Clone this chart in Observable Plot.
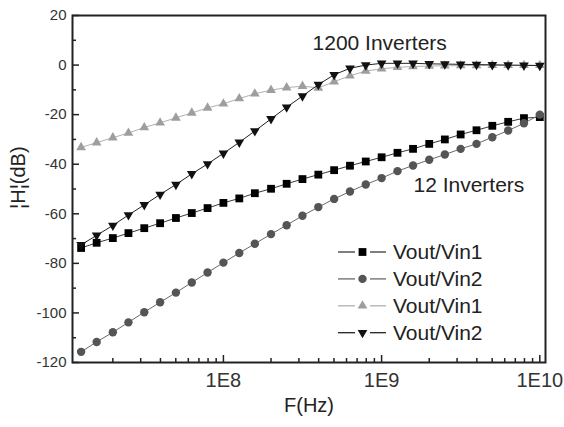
<!DOCTYPE html>
<html><head><meta charset="utf-8">
<script src="https://cdn.jsdelivr.net/npm/d3@7"></script>
<script src="https://cdn.jsdelivr.net/npm/@observablehq/plot@0.6"></script>
<style>
html,body{margin:0;padding:0;background:#fff;}
#wrap{position:relative;width:564px;height:427px;}
#wrap svg{display:block;}
#legend{position:absolute;left:0;top:0;pointer-events:none;}
</style></head>
<body><div id="wrap"></div>
<script>
// ---------- data ----------
const freq = [1.26e7, 1.58e7, 2.00e7, 2.51e7, 3.16e7, 3.98e7, 5.01e7, 6.31e7, 7.94e7,
  1.00e8, 1.26e8, 1.58e8, 2.00e8, 2.51e8, 3.16e8, 3.98e8, 5.01e8, 6.31e8, 7.94e8,
  1.00e9, 1.26e9, 1.58e9, 2.00e9, 2.51e9, 3.16e9, 3.98e9, 5.01e9, 6.31e9, 7.94e9,
  1.00e10];
// 12 inverters
const inv12Vin1 = [-73.8, -71.7, -69.8, -67.8, -65.8, -63.8, -61.7, -59.7, -57.7, -55.6,
  -53.8, -51.7, -49.9, -47.9, -46.0, -44.2, -42.4, -40.6, -38.9, -37.2,
  -35.4, -33.8, -31.8, -30.0, -28.0, -26.3, -24.5, -22.9, -21.4, -21.0];
const inv12Vin2 = [-115.7, -111.7, -107.8, -103.8, -99.7, -95.7, -91.8, -87.7, -83.7, -79.7,
  -75.8, -72.1, -68.2, -64.6, -60.8, -57.3, -54.0, -51.0, -48.2, -45.6,
  -42.8, -40.5, -38.2, -36.1, -33.8, -31.8, -29.1, -26.4, -23.5, -20.0];
// 1200 inverters
const inv1200Vin1 = [-33.2, -31.3, -29.3, -27.4, -25.2, -23.3, -21.3, -19.3, -17.3, -15.6,
  -13.5, -11.6, -10.1, -9.1, -8.5, -9.2, -6.7, -4.3, -2.4, -1.5,
  -0.9, -0.6, -0.4, -0.3, -0.2, -0.2, -0.1, -0.1, -0.1, -0.1];
const inv1200Vin2 = [-72.5, -68.7, -64.7, -60.5, -56.4, -52.2, -48.2, -43.9, -39.9, -35.6,
  -31.2, -26.6, -21.7, -17.0, -12.5, -7.9, -3.9, -1.3, 0.0, 0.7,
  0.7, 0.7, 0.5, 0.4, 0.3, 0.2, 0.1, 0.0, -0.1, -0.2];
const legendLabels = ["Vout/Vin1", "Vout/Vin2", "Vout/Vin1", "Vout/Vin2"];
const annotations = ["1200 Inverters", "12 Inverters"];
const xMajorTicks = [1e8, 1e9, 1e10];
const xTickLabels = ["1E8", "1E9", "1E10"];
const xMinorTicks = [2e7, 3e7, 4e7, 5e7, 6e7, 7e7, 8e7, 9e7,
  2e8, 3e8, 4e8, 5e8, 6e8, 7e8, 8e8, 9e8,
  2e9, 3e9, 4e9, 5e9, 6e9, 7e9, 8e9, 9e9];
const yMajorTicks = [-120, -100, -80, -60, -40, -20, 0, 20];
const yTickLabels = ["-120", "-100", "-80", "-60", "-40", "-20", "0", "20"];
const yMinorTicks = [-110, -90, -70, -50, -30, -10, 10];
const xTitle = "F(Hz)";
const yTitle = "¦H¦(dB)";

// ---------- layout ----------
const W = 564, H = 427, mL = 72, mR = 19, mT = 15, mB = 65;
const innerW = W - mL - mR, innerH = H - mT - mB;
const FONT = "'Liberation Sans', Arial, Helvetica, sans-serif";
const INK = "#222";

const triDown = {
  draw(ctx, size) {
    const y = Math.sqrt(size / (Math.sqrt(3) * 3));
    ctx.moveTo(0, 2 * y);
    ctx.lineTo(Math.sqrt(3) * y, -y);
    ctx.lineTo(-Math.sqrt(3) * y, -y);
    ctx.closePath();
  }
};

const series = [
  {values: inv12Vin1, line: "#3a3a3a", fill: "#000", plotSym: "square", d3Sym: d3.symbolSquare, r: 4.4},
  {values: inv12Vin2, line: "#6a6a6a", fill: "#555", plotSym: "circle", d3Sym: d3.symbolCircle, r: 4.2},
  {values: inv1200Vin1, line: "#b0b0b0", fill: "#9e9e9e", plotSym: "triangle", d3Sym: d3.symbolTriangle, r: 3.6},
  {values: inv1200Vin2, line: "#222", fill: "#111", plotSym: triDown, d3Sym: triDown, r: 3.6}
];

const seriesMarks = series.flatMap(s => {
  const rows = freq.map((f, i) => ({f, v: s.values[i]}));
  return [
    Plot.line(rows, {x: "f", y: "v", stroke: s.line, strokeWidth: 1}),
    Plot.dot(rows, {x: "f", y: "v", symbol: s.plotSym, r: s.r, fill: s.fill, stroke: "none"})
  ];
});

const plot = Plot.plot({
  width: W, height: H,
  marginLeft: mL, marginRight: mR, marginTop: mT, marginBottom: mB,
  style: {fontFamily: FONT, color: INK, background: "#fff", overflow: "visible"},
  x: {type: "log", domain: [10 ** 7.046, 10 ** 10.036]},
  y: {domain: [-120, 20]},
  marks: [
    ...seriesMarks,
    // inward ticks
    Plot.tickY(yMajorTicks, {y: d => d, insetRight: innerW - 7, stroke: INK, strokeWidth: 1.5}),
    Plot.tickY(yMinorTicks, {y: d => d, insetRight: innerW - 4, stroke: INK, strokeWidth: 1.5}),
    Plot.tickX(xMajorTicks, {x: d => d, insetTop: innerH - 7, stroke: INK, strokeWidth: 1.5}),
    Plot.tickX(xMinorTicks, {x: d => d, insetTop: innerH - 4, stroke: INK, strokeWidth: 1.5}),
    Plot.axisY({ticks: yMajorTicks, tickSize: 0, tickPadding: 6, fontSize: 15, label: null, fill: "#333",
      tickFormat: d => yTickLabels[yMajorTicks.indexOf(d)]}),
    Plot.axisX({ticks: xMajorTicks, tickSize: 0, tickPadding: 10, fontSize: 20, label: null, fill: "#333",
      tickFormat: d => xTickLabels[xMajorTicks.indexOf(d)]}),
    Plot.frame({stroke: INK, strokeWidth: 2}),
    Plot.text([annotations[0]], {text: d => d, x: 3.66e8, y: 8.6, textAnchor: "start", fontSize: 21, fill: INK}),
    Plot.text([annotations[1]], {text: d => d, x: 1.59e9, y: -48.6, textAnchor: "start", fontSize: 21, fill: INK}),
    Plot.text([xTitle], {text: d => d, frameAnchor: "bottom", dy: 49, fontSize: 20, fill: INK}),
    Plot.text([yTitle], {text: d => d, frameAnchor: "left", rotate: -90, dx: -54, dy: 20, fontSize: 20, fill: INK})
  ]
});

const wrap = document.getElementById("wrap");
wrap.appendChild(plot);

// ---------- legend (overlay inside plot area) ----------
const leg = d3.select(wrap).append("svg").attr("id", "legend").attr("width", W).attr("height", H);
series.forEach((s, i) => {
  const g = leg.append("g").attr("transform", `translate(0,${252 + i * 26.9})`);
  g.append("line").attr("x1", 338).attr("x2", 355).attr("y1", 0).attr("y2", 0)
    .attr("stroke", s.line).attr("stroke-width", 1.3);
  g.append("line").attr("x1", 370).attr("x2", 386).attr("y1", 0).attr("y2", 0)
    .attr("stroke", s.line).attr("stroke-width", 1.3);
  g.append("path").attr("transform", "translate(362.5,0)")
    .attr("d", d3.symbol(s.d3Sym, s.r * s.r * Math.PI)()).attr("fill", s.fill);
  g.append("text").attr("x", 393).attr("y", 0).attr("dy", "0.35em")
    .attr("font-family", FONT).attr("font-size", 21).attr("fill", INK)
    .text(legendLabels[i]);
});
</script>
</body></html>
